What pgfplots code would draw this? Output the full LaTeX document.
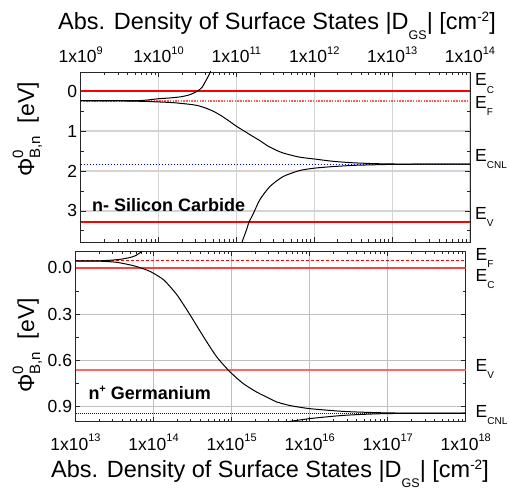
\documentclass[border=0pt]{standalone}
\usepackage{fontspec}
\setmainfont{Liberation Sans}
\usepackage{pgfplots}
\pgfplotsset{compat=1.18}
\newcommand{\sups}[1]{\raisebox{8.5bp}{\fontsize{11bp}{11bp}\selectfont #1}}
\newcommand{\esub}[1]{\raisebox{-7.3bp}{\fontsize{10bp}{10bp}\selectfont #1}}
\newcommand{\ttl}{\fontsize{23.5bp}{26bp}\selectfont Abs. Density of Surface States |D\raisebox{-10bp}{\fontsize{12.5bp}{12.5bp}\selectfont GS}| [cm\raisebox{8bp}{\fontsize{13.5bp}{13.5bp}\selectfont -2}]}
\newcommand{\ylab}{\fontsize{23bp}{26bp}\selectfont Φ\rlap{\raisebox{11bp}{\fontsize{15bp}{15bp}\selectfont 0}}\raisebox{-6bp}{\fontsize{15bp}{15bp}\selectfont B,n}\ \ [eV]}
\definecolor{ecred}{RGB}{255,0,0}
\begin{document}
\begin{tikzpicture}
\useasboundingbox (0,0) rectangle (509bp,490bp);
% ---------------- top: SiC ----------------
\begin{semilogxaxis}[
  scale only axis, y dir=reverse,
  xtick pos=both, ytick pos=both, tick align=inside,
  axis line style={line width=0.8bp, black!85},
  major tick length=5bp, minor tick length=3bp,
  every tick/.style={line width=0.7bp, black!85},
  tick label style={font=\fontsize{17.5bp}{20bp}\selectfont},
  grid=major,
  at={(80.7bp,248bp)}, anchor=south west,
  width=389.3bp, height=170bp,
  xmin=1e9, xmax=1e14, ymin=-0.48, ymax=3.78,
  xtick={1e9,1e10,1e11,1e12,1e13,1e14},
  xticklabels={1x10\sups{9},1x10\sups{10},1x10\sups{11},1x10\sups{12},1x10\sups{13},1x10\sups{14}},
  xticklabel style={anchor=base, yshift=179bp},
  minor xtick={2e9,3e9,4e9,5e9,6e9,7e9,8e9,9e9,2e10,3e10,4e10,5e10,6e10,7e10,8e10,9e10,2e11,3e11,4e11,5e11,6e11,7e11,8e11,9e11,2e12,3e12,4e12,5e12,6e12,7e12,8e12,9e12,2e13,3e13,4e13,5e13,6e13,7e13,8e13,9e13},
  ytick={0,1,2,3}, yticklabels={0,1,2,3},
  minor ytick={0.5,1.5,2.5,3.5},
  major grid style={line width=1.3bp, black!17},
]
\addplot[draw=ecred, line width=1.4bp] coordinates {(1e9,0) (1e14,0)};
\addplot[red!65, line width=1.8bp, dash pattern=on 1.5bp off 1.2bp] coordinates {(1e9,0.24) (1e14,0.24)};
\addplot[blue, line width=1bp, dash pattern=on 1.5bp off 1.5bp] coordinates {(1e9,1.83) (1e14,1.83)};
\addplot[draw=ecred, line width=1.2bp] coordinates {(1e9,3.28) (1e14,3.28)};
% branch A
\addplot[black, line width=1bp, smooth, tension=0.4] coordinates {
(1e9,0.24) (3.16e9,0.24) (6.3e9,0.232) (1e10,0.19) (1.41e10,0.17) (1.95e10,0.14)
(2.51e10,0.09) (3.16e10,0.0) (3.63e10,-0.1) (4.07e10,-0.27) (4.37e10,-0.38) (4.68e10,-0.5)};
% branch B
\addplot[black, line width=1bp, smooth, tension=0.4] coordinates {
(1e9,0.24) (3.16e9,0.245) (6.3e9,0.255) (1e10,0.27) (1.58e10,0.29) (2.51e10,0.33)
(3.16e10,0.36) (3.98e10,0.42) (5.01e10,0.50) (6.31e10,0.61) (7.94e10,0.74)
(1e11,0.88) (1.26e11,1.00) (1.58e11,1.12) (2e11,1.24) (2.51e11,1.37) (3.16e11,1.47)
(3.98e11,1.55) (6.31e11,1.65) (1e12,1.70) (1.78e12,1.76) (3.16e12,1.795)
(5.62e12,1.815) (1e13,1.825) (3.16e13,1.83) (1e14,1.83)};
% branch C
\addplot[black, line width=1bp, smooth, tension=0.4] coordinates {
(1.17e11,3.8) (1.35e11,3.47) (1.45e11,3.28) (1.62e11,3.10) (2e11,2.72) (2.69e11,2.39)
(3.98e11,2.14) (6.46e11,1.99) (1e12,1.93) (1.74e12,1.89) (3.16e12,1.86)
(4.68e12,1.85) (1e13,1.835) (3.16e13,1.83) (1e14,1.83)};
\end{semilogxaxis}
% ---------------- bottom: Ge ----------------
\begin{semilogxaxis}[
  scale only axis, y dir=reverse,
  xtick pos=both, ytick pos=both, tick align=inside,
  axis line style={line width=0.8bp, black!85},
  major tick length=5bp, minor tick length=3bp,
  every tick/.style={line width=0.7bp, black!85},
  tick label style={font=\fontsize{17.5bp}{20bp}\selectfont},
  grid=major,
  at={(75.5bp,68.3bp)}, anchor=south west,
  width=390.2bp, height=170.7bp,
  xmin=1e13, xmax=1e18, ymin=-0.11, ymax=1.0,
  xtick={1e13,1e14,1e15,1e16,1e17,1e18},
  xticklabels={1x10\sups{13},1x10\sups{14},1x10\sups{15},1x10\sups{16},1x10\sups{17},1x10\sups{18}},
  xticklabel style={anchor=base, yshift=-28.3bp},
  minor xtick={2e13,3e13,4e13,5e13,6e13,7e13,8e13,9e13,2e14,3e14,4e14,5e14,6e14,7e14,8e14,9e14,2e15,3e15,4e15,5e15,6e15,7e15,8e15,9e15,2e16,3e16,4e16,5e16,6e16,7e16,8e16,9e16,2e17,3e17,4e17,5e17,6e17,7e17,8e17,9e17},
  ytick={0,0.3,0.6,0.9}, yticklabels={0.0,0.3,0.6,0.9},
  minor ytick={0.15,0.45,0.75},
  major grid style={line width=1bp, black!25},
]
\addplot[red, line width=0.9bp, dash pattern=on 3bp off 2bp] coordinates {(1e13,-0.046) (1e18,-0.046)};
\addplot[red!75, line width=1.6bp] coordinates {(1e13,0) (1e18,0)};
\addplot[red!60, line width=2bp] coordinates {(1e13,0.665) (1e18,0.665)};
\addplot[blue, line width=1bp, dash pattern=on 1bp off 1bp] coordinates {(1e13,0.948) (1e18,0.948)};
% branch A
\addplot[black, line width=1bp, smooth, tension=0.4] coordinates {
(1e13,-0.045) (2e13,-0.046) (3.16e13,-0.052) (3.98e13,-0.058) (5.01e13,-0.068)
(5.89e13,-0.08) (6.76e13,-0.10) (7.24e13,-0.115)};
% branch B
\addplot[black, line width=1bp, smooth, tension=0.4] coordinates {
(1e13,-0.045) (2e13,-0.044) (3.16e13,-0.038) (4.47e13,-0.025) (6.17e13,-0.008)
(9.12e13,0.024) (1.35e14,0.078) (2e14,0.176) (2.95e14,0.307) (4.37e14,0.448)
(6.46e14,0.579) (9.55e14,0.676) (1.41e15,0.752) (2.09e15,0.807) (3.09e15,0.85)
(3.8e15,0.872) (5.62e15,0.895) (1e16,0.915) (2.69e16,0.933) (7.08e16,0.941)
(1.58e17,0.944) (1e18,0.945)};
% branch C
\addplot[black, line width=1bp, smooth, tension=0.4] coordinates {
(4.5e15,1.005) (1e16,0.98) (2.69e16,0.959) (7.08e16,0.949) (1.58e17,0.946) (1e18,0.945)};
\end{semilogxaxis}
% ---------------- texts ----------------
\node[anchor=base, inner sep=0pt] at (277bp,460bp) {\ttl};
\node[anchor=base, inner sep=0pt] at (270bp,12.3bp) {\ttl};
\node[rotate=90, anchor=base, inner sep=0pt] at (34bp,360.5bp) {\ylab};
\node[rotate=90, anchor=base, inner sep=0pt] at (34bp,144.5bp) {\ylab};
\node[anchor=base west, inner sep=0pt] at (92bp,278.3bp) {\fontsize{18bp}{20bp}\selectfont\bfseries n- Silicon Carbide};
\node[anchor=base west, inner sep=0pt] at (88.3bp,90bp) {\fontsize{18bp}{20bp}\selectfont\bfseries n\raisebox{7bp}{\fontsize{11bp}{11bp}\selectfont +} Germanium};
\begin{scope}[every node/.style={anchor=base west, inner sep=0pt, font=\fontsize{17.5bp}{20bp}\selectfont}]
\node at (475bp,404bp) {E\esub{C}};
\node at (475bp,381.7bp) {E\esub{F}};
\node at (475bp,328.3bp) {E\esub{CNL}};
\node at (475bp,270.7bp) {E\esub{V}};
\node at (475.5bp,229.3bp) {E\esub{F}};
\node at (475.5bp,208.3bp) {E\esub{C}};
\node at (475.5bp,118.3bp) {E\esub{V}};
\node at (475.5bp,72.3bp) {E\esub{CNL}};
\end{scope}
\end{tikzpicture}
\end{document}
